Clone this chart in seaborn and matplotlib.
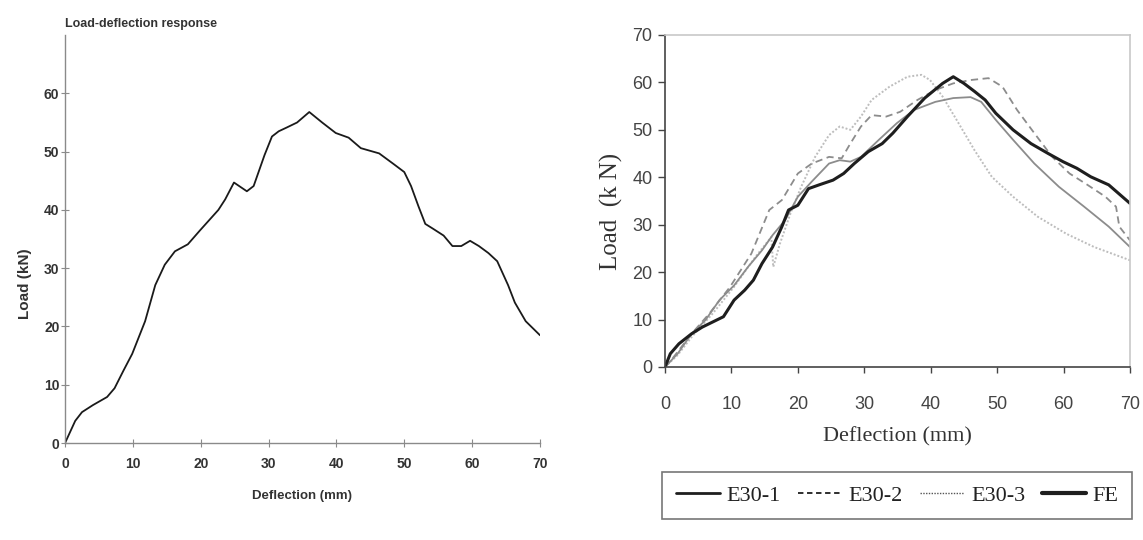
import matplotlib
matplotlib.use("Agg")
import matplotlib.pyplot as plt
import seaborn as sns
import pandas as pd
from matplotlib.lines import Line2D

# ---------------- data ----------------
# Left panel: single load-deflection curve
left_defl = [0, 1.5, 2.5, 4.1, 6.2, 7.3, 8.6, 9.9, 11.8, 13.3, 14.7, 16.2, 18.1, 19.9,
             22.6, 23.6, 24.9, 26.8, 27.8, 29.4, 30.5, 31.5, 32.6, 34.2, 36.0, 37.9,
             39.9, 41.8, 43.6, 46.3, 48.4, 50.0, 51.0, 52.1, 53.1, 54.2, 55.8, 57.1,
             58.4, 59.7, 61.0, 62.4, 63.7, 65.3, 66.3, 67.9, 70.0]
left_load = [0, 3.8, 5.3, 6.5, 7.9, 9.4, 12.4, 15.3, 20.9, 27.1, 30.6, 32.9, 34.1, 36.5,
             40.0, 41.8, 44.7, 43.2, 44.1, 49.4, 52.6, 53.5, 54.1, 55.0, 56.8, 55.0,
             53.2, 52.4, 50.6, 49.7, 47.9, 46.5, 44.1, 40.6, 37.6, 36.8, 35.6, 33.8,
             33.8, 34.7, 33.8, 32.6, 31.2, 27.1, 24.1, 20.9, 18.5]

# Right panel: four series
fe_defl = [0, 0.8, 2.1, 4.0, 5.6, 7.2, 8.8, 10.4, 12.0, 13.3, 14.6, 16.2, 17.6, 18.6,
           20.0, 21.6, 23.2, 25.3, 26.9, 28.5, 30.6, 32.7, 34.3, 36.5, 39.1, 41.8,
           43.4, 45.0, 46.6, 48.2, 49.8, 52.4, 55.1, 57.7, 59.9, 62.0, 64.1, 66.8, 70.0]
fe_load = [0, 2.8, 4.9, 7.0, 8.4, 9.5, 10.6, 14.1, 16.2, 18.3, 21.8, 25.3, 29.6, 33.1,
           34.1, 37.6, 38.4, 39.4, 40.8, 42.9, 45.4, 47.1, 49.3, 52.8, 56.7, 59.8,
           61.2, 59.8, 58.1, 56.3, 53.5, 50.0, 47.1, 45.0, 43.3, 41.9, 40.1, 38.4, 34.5]

e1_defl = [0, 1.9, 4.0, 6.1, 8.2, 10.4, 12.5, 14.6, 16.2, 18.1, 20.0, 22.1, 24.7, 26.3,
           27.9, 29.5, 32.2, 34.9, 37.5, 40.7, 43.4, 46.0, 47.6, 49.8, 52.4, 55.6,
           59.3, 63.1, 66.8, 70.0]
e1_load = [0, 2.8, 7.0, 9.9, 14.1, 17.2, 21.1, 24.6, 27.8, 31.0, 35.9, 39.1, 42.9, 43.6,
           43.3, 44.3, 47.9, 51.4, 54.2, 55.9, 56.7, 56.9, 55.9, 52.1, 47.9, 42.9,
           38.0, 33.8, 29.6, 25.3]

e2_defl = [0, 1.3, 4.0, 6.7, 9.8, 13.0, 15.7, 17.6, 20.0, 22.1, 24.7, 26.6, 27.9, 29.5,
           31.1, 33.3, 35.4, 38.0, 40.7, 43.4, 46.0, 48.7, 50.8, 53.0, 55.6, 58.3,
           60.9, 63.6, 66.3, 67.9, 68.4, 70.0]
e2_load = [0, 2.1, 7.0, 11.3, 16.9, 23.9, 33.1, 35.2, 40.8, 42.9, 44.3, 44.0, 47.1, 50.7,
           53.1, 52.8, 53.8, 56.3, 58.4, 59.8, 60.5, 60.9, 59.1, 54.2, 49.3, 44.3,
           40.8, 38.4, 35.9, 33.8, 29.6, 26.7]

e3_defl = [0, 1.9, 4.0, 7.2, 10.4, 13.6, 16.0, 16.3, 17.3, 18.9, 20.5, 22.6, 24.7, 26.3,
           27.9, 29.5, 31.1, 33.8, 36.5, 38.6, 39.9, 41.8, 43.9, 46.6, 49.2, 52.4,
           56.1, 60.4, 64.6, 70.0]
e3_load = [0, 2.5, 6.3, 11.3, 16.9, 23.2, 27.4, 21.1, 26.0, 32.4, 38.0, 44.3, 48.9, 50.7,
           50.0, 52.8, 56.3, 59.1, 61.2, 61.6, 60.5, 57.0, 52.1, 45.7, 40.1, 35.9,
           31.7, 28.1, 25.3, 22.5]

series_names = ["E30-1", "E30-2", "E30-3", "FE"]
x_ticks = [0, 10, 20, 30, 40, 50, 60, 70]
left_y_ticks = [0, 10, 20, 30, 40, 50, 60]
right_y_ticks = [0, 10, 20, 30, 40, 50, 60, 70]

# ---------------- figure ----------------
sns.set_theme(style="white")
plt.rcParams['font.family'] = ['Liberation Sans', 'DejaVu Sans']
SERIF = ["Liberation Serif", "DejaVu Serif"]

fig = plt.figure(figsize=(11.43, 5.4), dpi=100)

# ---- left panel ----
axL = fig.add_axes([0.0569, 0.1796, 0.4155, 0.7554])
dfL = pd.DataFrame({"Deflection": left_defl, "Load": left_load})
sns.lineplot(data=dfL, x="Deflection", y="Load", ax=axL, color="#1a1a1a",
             linewidth=1.3, sort=False, estimator=None)
axL.set_xlim(0, 70)
axL.set_ylim(0, 70)
axL.set_xticks(x_ticks)
axL.set_yticks(left_y_ticks)
for s in ["top", "right"]:
    axL.spines[s].set_visible(False)
for s in ["left", "bottom"]:
    axL.spines[s].set_color("#8a8a8a")
    axL.spines[s].set_linewidth(1.0)
axL.tick_params(axis="x", which="major", direction="inout", length=6, width=0.8,
                color="#8a8a8a", labelsize=10, labelcolor="#333333", pad=7,
                bottom=True)
axL.tick_params(axis="y", which="major", direction="inout", length=6, width=0.8,
                color="#8a8a8a", labelsize=10, labelcolor="#333333", pad=1,
                left=True)
for lab in axL.get_xticklabels() + axL.get_yticklabels():
    lab.set_fontweight("bold")
axL.set_xlabel("Deflection (mm)", fontsize=9.5, fontweight="bold", color="#333333")
axL.xaxis.set_label_coords(0.5, -0.115)
axL.set_ylabel("Load (kN)", fontsize=11, fontweight="bold", color="#333333")
axL.yaxis.set_label_coords(-0.07, 0.39)
fig.text(0.0569, 0.944, "Load-deflection response", fontsize=9, fontweight="bold",
         color="#333333", ha="left", va="bottom")

# ---- right panel ----
axR = fig.add_axes([0.5818, 0.3204, 0.4068, 0.6148])
styles = {
    "E30-1": dict(color="#8c8c8c", linewidth=1.3, linestyle="-"),
    "E30-2": dict(color="#8c8c8c", linewidth=1.3, linestyle=(0, (4, 2.5))),
    "E30-3": dict(color="#bdbdbd", linewidth=1.4, linestyle=(0, (1, 1))),
    "FE": dict(color="#1e1e1e", linewidth=2.2, linestyle="-"),
}
data_map = {
    "E30-1": (e1_defl, e1_load),
    "E30-2": (e2_defl, e2_load),
    "E30-3": (e3_defl, e3_load),
    "FE": (fe_defl, fe_load),
}
for name in ["E30-3", "E30-2", "E30-1", "FE"]:
    xs, ys = data_map[name]
    df = pd.DataFrame({"Deflection": xs, "Load": ys})
    sns.lineplot(data=df, x="Deflection", y="Load", ax=axR, sort=False,
                 estimator=None, **styles[name])
axR.set_xlim(0, 70)
axR.set_ylim(0, 70)
axR.set_xticks(x_ticks)
axR.set_yticks(right_y_ticks)
axR.spines["left"].set_color("#444444")
axR.spines["bottom"].set_color("#444444")
axR.spines["top"].set_color("#c8c8c8")
axR.spines["right"].set_color("#c8c8c8")
for s in axR.spines.values():
    s.set_linewidth(1.2)
axR.tick_params(axis="x", which="major", direction="out", length=4, width=1.0,
                color="#444444", labelsize=13, labelcolor="#444444", pad=17,
                bottom=True)
axR.tick_params(axis="y", which="major", direction="out", length=5, width=1.0,
                color="#444444", labelsize=13, labelcolor="#444444", pad=4,
                left=True)
axR.set_xlabel("Deflection (mm)", fontsize=16, family=SERIF, color="#333333")
axR.xaxis.set_label_coords(0.5, -0.18)
axR.set_ylabel("Load  (k N)", fontsize=18, family=SERIF, color="#333333")
axR.yaxis.set_label_coords(-0.09, 0.47)

handles = [
    Line2D([], [], color="#1e1e1e", linewidth=2.0, linestyle="-"),
    Line2D([], [], color="#1e1e1e", linewidth=1.3, linestyle=(0, (3, 2))),
    Line2D([], [], color="#555555", linewidth=1.0, linestyle=(0, (1, 1))),
    Line2D([], [], color="#1e1e1e", linewidth=3.0, linestyle="-"),
]
leg = fig.legend(handles, series_names, loc="center",
                 bbox_to_anchor=(0.785, 0.0825),
                 ncol=4, frameon=True,
                 prop={"family": SERIF, "size": 16},
                 handlelength=2.0, handletextpad=0.3, columnspacing=0.75,
                 borderpad=0.6, borderaxespad=0.3, fancybox=False,
                 edgecolor="#555555")
leg.get_frame().set_linewidth(1.2)
for t in leg.get_texts():
    t.set_color("#222222")

fig.savefig("out.png", dpi=100, facecolor="white")
